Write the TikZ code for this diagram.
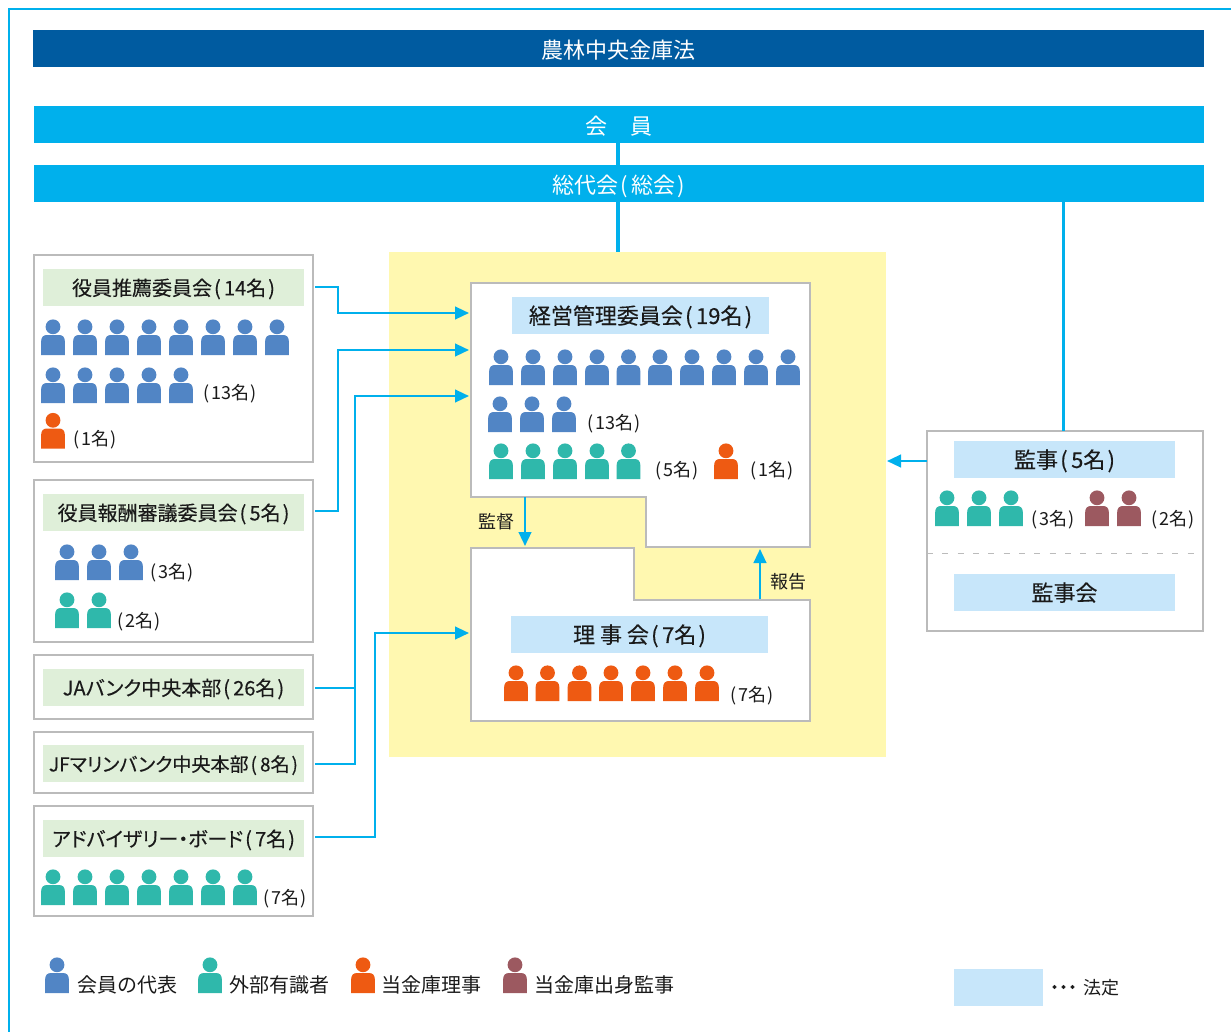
\documentclass[tikz,border=0pt]{standalone}
\usepackage{fontspec}
\setmainfont{Noto Sans CJK JP}
\usetikzlibrary{arrows.meta}
\definecolor{cbar}{HTML}{00B0EC}
\definecolor{cnavy}{HTML}{005BA0}
\definecolor{cyel}{HTML}{FFF8B0}
\definecolor{cgrey}{HTML}{BBBBBB}
\definecolor{clb}{HTML}{C7E6FA}
\definecolor{cgr}{HTML}{DFEFD9}
\definecolor{pblue}{HTML}{5185C5}
\definecolor{pteal}{HTML}{2FB8AB}
\definecolor{porange}{HTML}{EE5A12}
\definecolor{pbrown}{HTML}{9C5960}
\definecolor{ctext}{HTML}{1A1A1A}
\newcommand{\rect}[6]{% name x1 y1 x2 y2 style+text
  \pgfmathsetmacro{\cxx}{(#2+#4)/2}\pgfmathsetmacro{\cyy}{(#3+#5)/2}
  \pgfmathsetmacro{\ww}{(#4-#2)*0.75}\pgfmathsetmacro{\hh}{(#5-#3)*0.75}
  \node[minimum width=\ww pt,minimum height=\hh pt,#6] (#1) at (\cxx,\cyy)}
\newcommand{\persons}[3]{% colour bottom list
  \foreach \px in {#3}{
    \fill[#1] ({\px-11.8},#2) -- ({\px-11.8},#2-14) .. controls ({\px-11.8},#2-18) and ({\px-9.5},#2-20) .. ({\px-6},#2-20) -- ({\px+6},#2-20) .. controls ({\px+9.5},#2-20) and ({\px+11.8},#2-18) .. ({\px+11.8},#2-14) -- ({\px+11.8},#2) -- cycle;
    \fill[#1] (\px,#2-28.2) circle[radius=7.4];
  }}
\newcommand{\lp}{\hspace{.1em}(\hspace{.16em}}
\newcommand{\rp}{\hspace{.1em})\hspace{.2em}}
\newcommand{\clp}{(\hspace{.12em}}
\newcommand{\crp}{\hspace{.08em})}
\tikzset{
  every node/.style={inner sep=0pt,outer sep=0pt,text=ctext},
  fa/.style={font=\fontsize{16.5}{20}\selectfont\addfontfeature{RawFeature=+palt},text height=16pt,text depth=.7pt},
  fb/.style={font=\fontsize{15}{18}\selectfont\addfontfeature{FakeBold=0.25,RawFeature=+palt},text height=13.5pt,text depth=1.65pt},
  fbs/.style={font=\fontsize{14.3}{17}\selectfont\addfontfeature{FakeBold=0.25,RawFeature=+palt},text height=13.5pt,text depth=1.65pt},
  fbb/.style={font=\fontsize{16.5}{20}\selectfont\addfontfeature{FakeBold=0.25},text height=14.7pt,text depth=2pt},
  fc/.style={font=\fontsize{15}{18}\selectfont,text height=13.5pt,text depth=1.65pt},
  fd/.style={font=\fontsize{13.5}{16}\selectfont,text height=12.3pt,text depth=1.3pt},
  bar/.style={fill=cbar,fa,text=white},
  panel/.style={draw=cgrey,line width=1.7pt,fill=white},
  grlab/.style={fill=cgr,fb},
  bllab/.style={fill=clb,fbb},
  conn/.style={draw=cbar,line width=1.7pt},
  arr/.style={conn,-{Triangle[length=10.5pt,width=9.5pt]}},
}
\begin{document}
\begin{tikzpicture}[x=0.75pt,y=-0.75pt]
\useasboundingbox (0,0) rectangle (1231,1032);
\draw[cbar,line width=1.5pt] (1231,8.5) -- (9,8.5) -- (9,1032);
\rect{law}{33}{30}{1204}{67}{fill=cnavy,fa,text=white}{農林中央金庫法};
\rect{yellow}{389}{252}{886}{757}{fill=cyel}{};
\rect{member}{34}{106}{1204}{143}{bar}{会\hspace{1.05em}員};
\rect{general}{34}{165}{1204}{202}{bar}{総代会\lp 総会\rp};
\draw[cbar,line width=2.3pt] (member.south -| 618,0) -- (general.north -| 618,0);
\draw[cbar,line width=2.3pt] (general.south -| 618,0) -- (yellow.north -| 618,0);
% management and board panels
\draw[panel] (471,283) -- (810,283) -- (810,547) -- (646,547) -- (646,497) -- (471,497) -- cycle;
\draw[panel] (471,548) -- (634,548) -- (634,600) -- (810,600) -- (810,721) -- (471,721) -- cycle;
\coordinate (k1) at (469,313);
\coordinate (k2) at (469,350);
\coordinate (k3) at (469,396);
\coordinate (r1) at (469,633);
\coordinate (kb) at (525,497);
\coordinate (re) at (525,546);
\coordinate (rt) at (760,599);
\coordinate (ke) at (760,549);
% left boxes
\rect{boxa}{34}{255}{313}{462}{panel}{};
\rect{boxb}{34}{480}{313}{642}{panel}{};
\rect{boxc}{34}{655}{313}{719}{panel}{};
\rect{boxd}{34}{732}{313}{793}{panel}{};
\rect{boxe}{34}{806}{313}{916}{panel}{};
\rect{laba}{43}{269}{304}{306}{grlab}{役員推薦委員会\lp 14名\rp};
\rect{labb}{43}{494}{304}{531}{grlab}{役員報酬審議委員会\lp 5名\rp};
\rect{labc}{43}{669}{304}{706}{grlab}{JAバンク中央本部\lp 26名\rp};
\rect{labd}{43}{745}{304}{782}{grlab,fbs}{JFマリンバンク中央本部\lp 8名\rp};
\rect{labe}{43}{820}{304}{857}{grlab}{アドバイザリー・ボード\lp 7名\rp};
\rect{labk}{512}{297}{769}{334}{bllab}{経営管理委員会\lp 19名\rp};
\rect{labr}{511}{616}{768}{653}{bllab}{理 事 会\lp 7名\rp};
% right box
\rect{boxk}{927}{431}{1203}{631}{panel}{};
\rect{labs}{954}{441}{1175}{478}{bllab}{監事\lp 5名\rp};
\rect{labt}{954}{574}{1175}{611}{bllab}{監事会};
\draw[cgrey,line width=1.4pt,dash pattern=on 4.5pt off 7pt] (boxk.west |- 0,553.5) -- (boxk.east |- 0,553.5);
% connectors
\coordinate (sa) at (315,287);
\coordinate (sb) at (315,511);
\coordinate (sc) at (315,688);
\coordinate (sd) at (315,764);
\coordinate (se) at (315,837);
\draw[arr] (sa) -- (338,287) -- (338,313) -- (k1);
\draw[arr] (sb) -- (338,511) -- (338,350) -- (k2);
\draw[conn] (sc) -- (355,688);
\draw[arr] (sd) -- (355,764) -- (355,396) -- (k3);
\draw[arr] (se) -- (375,837) -- (375,633) -- (r1);
\draw[arr] (kb) -- (re);
\draw[arr] (rt) -- (ke);
\draw[conn] (general.south -| boxk.north) ++(-1.5,0) -- ++(0,229);
\coordinate (yr) at (887,461);
\draw[arr] (boxk.west |- yr) -- (yr);
% people
\persons{pblue}{355}{53,85,117,149,181,213,245,277}
\persons{pblue}{403}{53,85,117,149,181}
\persons{porange}{448.5}{53}
\persons{pblue}{580}{67,99,131}
\persons{pteal}{628}{67,99}
\persons{pteal}{905}{53,85,117,149,181,213,245}
\persons{pblue}{385}{501,533,565,597,628.5,660,692,724,756,788}
\persons{pblue}{432}{500,532,564}
\persons{pteal}{479}{501,533,565,597,628.5}
\persons{porange}{479}{726}
\persons{porange}{701}{516,547.5,579.5,611,643,675,707}
\persons{pteal}{526}{947,979,1011}
\persons{pbrown}{526}{1097,1129}
\persons{pblue}{993}{57}
\persons{pteal}{993}{210}
\persons{porange}{993}{363}
\persons{pbrown}{993}{515}
% counts
\node[fd] (t1) at (230,392) {\clp 13名\crp};
\node[fd] (t2) at (95,438) {\clp 1名\crp};
\node[fd] (t3) at (172,571) {\clp 3名\crp};
\node[fd] (t4) at (139,620) {\clp 2名\crp};
\node[fd] (t5) at (285,897) {\clp 7名\crp};
\node[fd] (t6) at (614,422) {\clp 13名\crp};
\node[fd] (t7) at (677,469) {\clp 5名\crp};
\node[fd] (t8) at (772,469) {\clp 1名\crp};
\node[fd] (t9) at (752,694) {\clp 7名\crp};
\node[fd] (t10) at (1053,518) {\clp 3名\crp};
\node[fd] (t11) at (1173,518) {\clp 2名\crp};
\node[fd] (kantoku) at (496,521) {監督};
\node[fd] (houkoku) at (788.5,581) {報告};
% legend
\node[fc,anchor=west] (l1) at (77,985) {会員の代表};
\node[fc,anchor=west] (l2) at (229,985) {外部有識者};
\node[fc,anchor=west] (l3) at (381,985) {当金庫理事};
\node[fc,anchor=west] (l4) at (534,985) {当金庫出身監事};
\rect{legbox}{954}{969}{1043}{1006}{fill=clb}{};
\node[fd,anchor=west] (l5) at (1083,987) {法定};
\node[fd,anchor=west,font=\fontsize{13.5}{16}\selectfont\addfontfeature{FakeBold=2.2,RawFeature=+palt}] (dots) at (1050,986.5) {・・・};
\end{tikzpicture}
\end{document}
